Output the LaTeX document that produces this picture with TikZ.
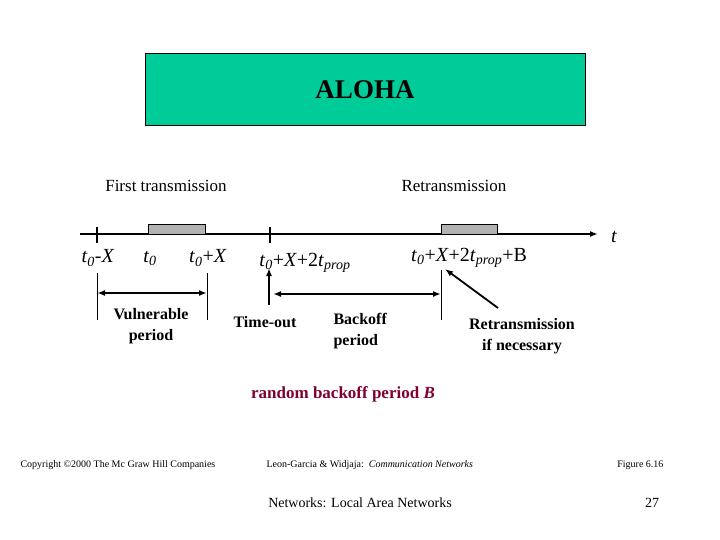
\documentclass[tikz,border=0pt]{standalone}
\usepackage{fontspec}
\setmainfont{Liberation Serif}
\usetikzlibrary{arrows.meta}
\definecolor{alohagreen}{RGB}{0,204,153}
\definecolor{backoffred}{RGB}{128,0,51}
\newcommand{\tnull}{\textit{t}\textsubscript{\textit{0}}}
\newcommand{\tprp}{\textit{t}\textsubscript{\textit{prop}}}
\tikzset{
	lbl/.style={font=\fontsize{17}{20}\selectfont},
	tlbl/.style={font=\fontsize{20}{23}\selectfont},
	note/.style={font=\fontsize{16}{21}\selectfont\bfseries, align=center},
	foot/.style={font=\fontsize{10}{12}\selectfont},
	packet/.style={fill=black!30, draw=black, line width=1pt},
	tick/.style={line width=1.5pt},
	guide/.style={line width=0.8pt},
	tip/.style={-{Latex[length=8pt,width=6pt]}, line width=1.8pt},
	twotip/.style={{Latex[length=8pt,width=6pt]}-{Latex[length=8pt,width=6pt]}, line width=1.8pt}
}
\begin{document}
\begin{tikzpicture}[x=1pt,y=-1pt]
		\useasboundingbox (0,0) rectangle (720,540);
		\node[draw=black, fill=alohagreen, line width=1pt, minimum width=440pt, minimum height=72pt, font=\fontsize{27}{30}\selectfont\bfseries] (title) at (365,90) {ALOHA};
		\node[lbl] (first) at (166,186) {First transmission};
		\node[lbl] (retx) at (454,186) {Retransmission};
		\coordinate (axstart) at (80,234);
		\coordinate (axend) at (598,234);
		\draw[tip] (axstart) -- (axend);
		\node[tlbl] (t) at (614,237) {\textit{t}};
		\draw[tick] (97,227) -- (97,243);
		\draw[tick] (270,227) -- (270,243);
		\draw[packet] (148,225) rectangle (205,234);
		\draw[packet] (441,225) rectangle (497,234);
		\node[tlbl] (tmx) at (98,258) {\tnull-\textit{X}};
		\node[tlbl] (tz) at (150,258) {\tnull};
		\node[tlbl] (tpx) at (208,258) {\tnull+\textit{X}};
		\node[tlbl] (tout) at (305,263) {\tnull+\textit{X}+2\tprp};
		\node[tlbl] (tback) at (469,258) {\tnull+\textit{X}+2\tprp+B};
		\coordinate (g1top) at (97,273);
		\coordinate (g1bot) at (97,320);
		\coordinate (g2top) at (207,273);
		\coordinate (g2bot) at (207,320);
		\coordinate (g3top) at (441,270);
		\coordinate (g3bot) at (441,320);
		\draw[guide] (g1top) -- (g1bot);
		\draw[guide] (g2top) -- (g2bot);
		\draw[guide] (g3top) -- (g3bot);
		\draw[twotip] (97,293) -- (207,293);
		\draw[twotip] (273,294) -- (441,294);
		\coordinate (tofoot) at (269,305);
		\draw[tip] (tofoot) -- (269,268);
		\coordinate (rtfoot) at (498,308);
		\draw[tip] (rtfoot) -- (445,269);
		\node[note] (vuln) at (151,326) {Vulnerable\\period};
		\node[note] (tolbl) at (265,322) {Time-out};
		\node[note, align=left, anchor=west] (boff) at (330,331) {Backoff\\period};
		\node[note] (rtlbl) at (522,336) {Retransmission\\if necessary};
		\node[note, font=\fontsize{17}{21}\selectfont\bfseries, text=backoffred] (rand) at (343,394) {random backoff period \textit{B}};
		\node[foot, anchor=west] (copy) at (17,465) {Copyright \textcopyright2000 The Mc Graw Hill Companies};
		\node[foot, anchor=west] (src) at (263,465) {Leon-Garcia \& Widjaja:\ \ \textit{Communication Networks}};
		\node[foot, anchor=east] (fig) at (667,465) {Figure 6.16};
		\node[font=\fontsize{14}{16}\selectfont] (chap) at (360,503) {Networks: Local Area Networks};
		\node[font=\fontsize{14}{16}\selectfont] (page) at (652,503) {27};
\end{tikzpicture}
\end{document}
